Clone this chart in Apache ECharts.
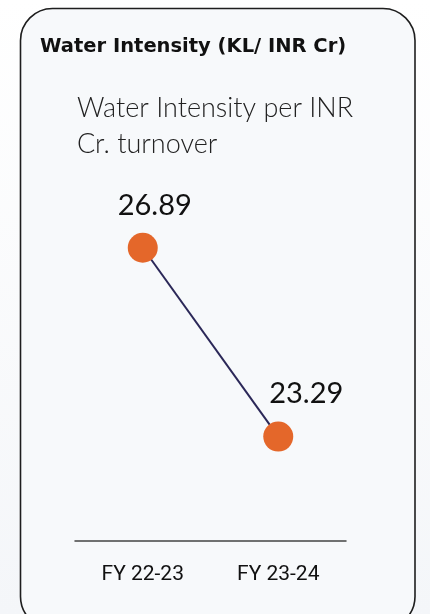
<!DOCTYPE html>
<html>
<head>
<meta charset="utf-8">
<script src="https://cdn.jsdelivr.net/npm/echarts@6/dist/echarts.min.js"></script>
<style>
  html, body { margin: 0; padding: 0; }
  body { background: linear-gradient(180deg, #ffffff 0%, #f4f6f9 100%); }
  #main { width: 430px; height: 614px; }
</style>
</head>
<body>
<div id="main"></div>
<script>
// chart data
var categories = ['FY 22-23', 'FY 23-24']
var values = [26.89, 23.29]
var labelOffsets = [[12, 0], [28, 0]]

var chart = echarts.init(document.getElementById('main'))

var option = {
  animation: false,
  graphic: [
    {
      type: 'rect',
      z: -10,
      shape: { x: 20.5, y: 8.5, width: 394.5, height: 620, r: 32 },
      style: { fill: '#f7f9fb', stroke: '#1e1e1e', lineWidth: 1.6 }
    },
    {
      type: 'text',
      left: 40,
      top: 37,
      style: {
        text: 'Water Intensity (KL/ INR Cr)',
        font: 'bold 19.5px "DejaVu Sans", sans-serif',
        fill: '#111'
      }
    },
    {
      type: 'text',
      left: 77,
      top: 90,
      style: {
        text: 'Water Intensity per INR\nCr. turnover',
        font: '300 27px Lato, "Noto Sans", sans-serif',
        lineHeight: 36,
        fill: '#222'
      }
    }
  ],
  grid: { left: 75, right: 84, top: 200, bottom: 73 },
  xAxis: {
    type: 'category',
    data: categories,
    boundaryGap: true,
    axisTick: { show: false },
    axisLine: { lineStyle: { color: '#444', width: 1.5 } },
    axisLabel: {
      color: '#111',
      fontSize: 21,
      fontFamily: 'Roboto, sans-serif',
      margin: 23
    }
  },
  yAxis: {
    type: 'value',
    min: 21.3,
    max: 27.8,
    show: false,
    splitLine: { show: false }
  },
  series: [
    {
      type: 'line',
      data: values.map(function (v, i) {
        return { value: v, label: { offset: labelOffsets[i] } }
      }),
      symbol: 'circle',
      symbolSize: 30,
      itemStyle: { color: '#e4672a' },
      lineStyle: { color: '#2b2858', width: 2 },
      label: {
        show: true,
        position: 'top',
        distance: 13,
        color: '#111',
        fontSize: 29,
        fontFamily: 'Lato, "Noto Sans", sans-serif',
        formatter: function (p) { return p.value.toFixed(2) }
      }
    }
  ]
}

chart.setOption(option)
</script>
</body>
</html>
